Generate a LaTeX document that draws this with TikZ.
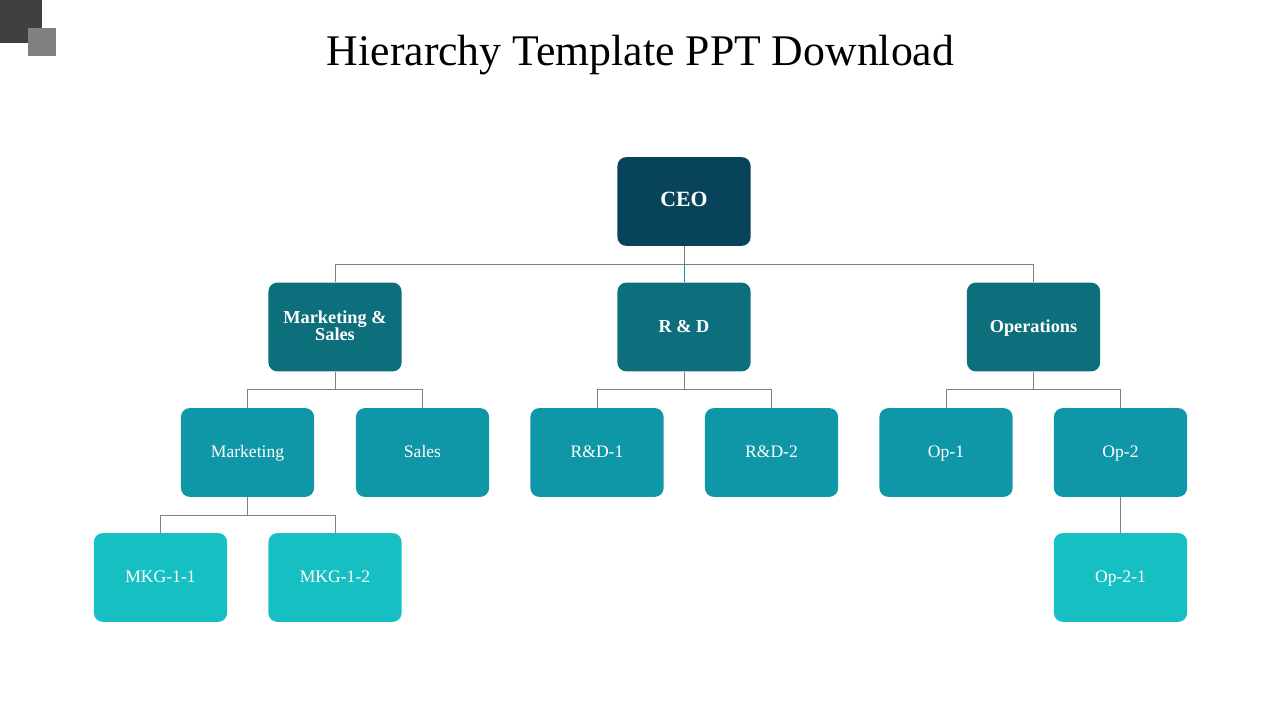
\documentclass[tikz,border=0pt]{standalone}
\usepackage{fontspec}
\setmainfont{Liberation Serif}
\definecolor{ceocol}{HTML}{07435A}
\definecolor{deptcol}{HTML}{0D6F7C}
\definecolor{teamcol}{HTML}{0F97A8}
\definecolor{subcol}{HTML}{16C0C2}
\definecolor{linecol}{HTML}{808080}
\tikzset{
 box/.style={draw=none,rounded corners=6.4pt,minimum width=3.33cm,minimum height=2.22cm,text=white,align=center},
 ceobox/.style={box,fill=ceocol,font=\fontsize{15.5}{17}\selectfont\bfseries,text height=7.4pt,text depth=0pt},
 deptbox/.style={box,fill=deptcol,font=\fontsize{13}{11.2}\selectfont\bfseries},
 oneline/.style={text height=7.4pt,text depth=0pt},
 teambox/.style={box,fill=teamcol,font=\fontsize{12.5}{12}\selectfont,text height=7.6pt,text depth=0pt},
 subbox/.style={box,fill=subcol,font=\fontsize{12.5}{12}\selectfont,text height=7.6pt,text depth=0pt},
 link/.style={draw=linecol,line width=.6pt}
}
\begin{document}
\begin{tikzpicture}[x=.025cm,y=-.025cm]
 \useasboundingbox (0,0) rectangle (1280,720);
 %
 \fill[fill=black!75] (0,0) rectangle (42,43);
 \fill[fill=linecol] (28,28) rectangle (56,56);
 \node[anchor=base] (title) at (640.5,65.5) {\fontsize{31.1}{32}\selectfont Hierarchy Template PPT Download};
 %
 \node[ceobox] (ceo) at (684,201.5) {CEO};
 %
 \node[deptbox,text depth=1.2pt] (ms) at (335,327) {Marketing \&\\[-.8pt]Sales};
 \node[deptbox,oneline] (rd) at (684,327) {R \& D};
 \node[deptbox,oneline] (ops) at (1033.5,327) {Operations};
 %
 \node[teambox] (mkt) at (247.5,452.5) {Marketing};
 \node[teambox] (sales) at (422.5,452.5) {Sales};
 \node[teambox] (rdone) at (597,452.5) {R\&D-1};
 \node[teambox] (rdtwo) at (771.5,452.5) {R\&D-2};
 \node[teambox] (opone) at (946,452.5) {Op-1};
 \node[teambox] (optwo) at (1120.5,452.5) {Op-2};
 %
 \node[subbox] (mkgone) at (160.5,577.5) {MKG-1-1};
 \node[subbox] (mkgtwo) at (335,577.5) {MKG-1-2};
 \node[subbox] (opsub) at (1120.5,577.5) {Op-2-1};
 %
 \coordinate (busceo) at (684,264.5);
 \coordinate (busms) at (335,389.5);
 \coordinate (busrd) at (684,389.5);
 \coordinate (busops) at (1033.5,389.5);
 \coordinate (busmkt) at (247.5,515.5);
 %
 \draw[link] (ceo.south) -- (busceo);
 \draw[link] (ms.north) |- (busceo) -| (ops.north);
 \draw[draw=teamcol,line width=.6pt] (busceo) -- (rd.north);
 %
 \draw[link] (ms.south) -- (busms);
 \draw[link] (mkt.north) |- (busms) -| (sales.north);
 %
 \draw[link] (rd.south) -- (busrd);
 \draw[link] (rdone.north) |- (busrd) -| (rdtwo.north);
 %
 \draw[link] (ops.south) -- (busops);
 \draw[link] (opone.north) |- (busops) -| (optwo.north);
 %
 \draw[link] (mkt.south) -- (busmkt);
 \draw[link] (mkgone.north) |- (busmkt) -| (mkgtwo.north);
 %
 \draw[link] (optwo.south) -- (opsub.north);
\end{tikzpicture}
\end{document}
